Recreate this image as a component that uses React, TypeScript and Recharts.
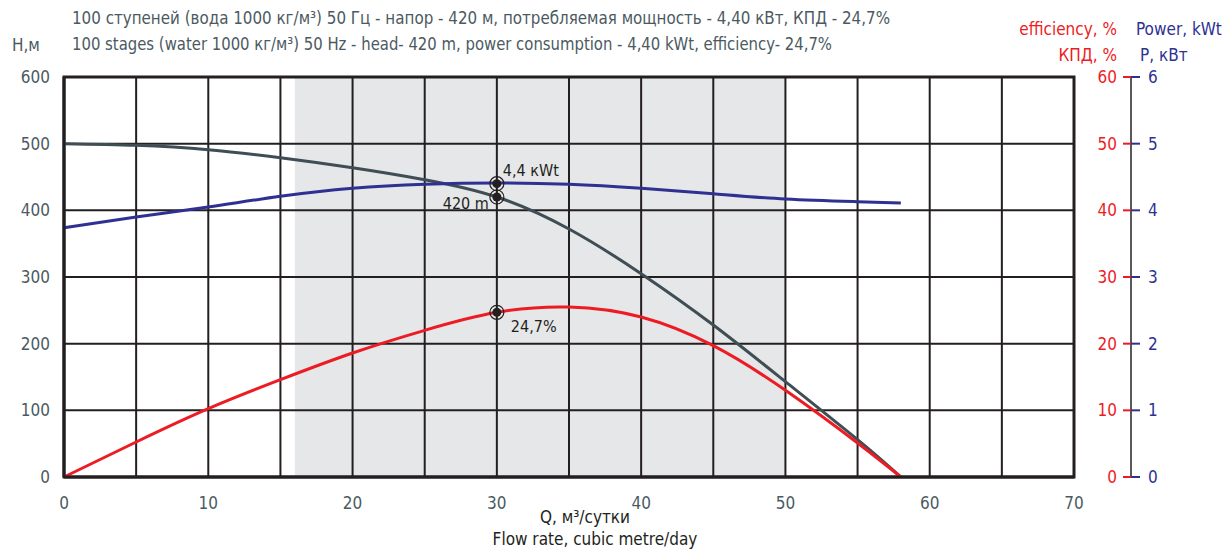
import {
  ComposedChart,
  Line,
  XAxis,
  YAxis,
  ReferenceArea,
  ReferenceDot,
  ReferenceLine,
} from "recharts";

const flow = [0, 5, 10, 15, 20, 25, 30, 35, 40, 45, 50, 55, 58];
const head = [500, 497.5, 491, 479, 464, 446, 420, 372, 305, 228, 143, 56, 0];
const power = [3.74, 3.9, 4.05, 4.21, 4.33, 4.39, 4.41, 4.39, 4.33, 4.25, 4.17, 4.13, 4.11];
const efficiency = [0, 5.25, 10.25, 14.6, 18.6, 22, 24.7, 25.5, 24.0, 19.7, 13.0, 5.1, 0];

const xTicks = [0, 5, 10, 15, 20, 25, 30, 35, 40, 45, 50, 55, 60, 65, 70];
const headTicks = [0, 100, 200, 300, 400, 500, 600];
const effTicks = [0, 10, 20, 30, 40, 50, 60];
const powerTicks = [0, 1, 2, 3, 4, 5, 6];
const workRange = [16, 50];

const titleRu =
  "100 ступеней (вода 1000 кг/м³) 50 Гц - напор - 420 м, потребляемая мощность - 4,40 кВт, КПД - 24,7%";
const titleEn =
  "100 stages (water 1000 кг/м³) 50 Hz - head- 420 m, power consumption - 4,40 kWt, efficiency- 24,7%";

const data = flow.map((q, i) => ({
  q,
  head: head[i],
  power: power[i],
  eff: efficiency[i],
}));

const FONT = "'Liberation Sans Narrow', 'DejaVu Sans Condensed', Roboto, sans-serif";
const GREY = "#4b5a62";
const RED = "#ed1c24";
const BLUE = "#2e3192";
const HEAD = "#3f4d54";
const INK = "#231f20";

const EffTick = (props: any) => {
  const { x, y, payload } = props;
  return (
    <g>
      <text x={x + 43} y={y} dy={6} textAnchor="end" fill={RED} fontSize={17} fontFamily={FONT}>
        {payload.value}
      </text>
      <line x1={x + 49} x2={x + 57} y1={y} y2={y} stroke={RED} strokeWidth={2} />
    </g>
  );
};

const marker = (label: string, dx: number, dy: number, anchor: string) => (props: any) => {
  const { cx, cy } = props;
  return (
    <g>
      <circle cx={cx} cy={cy} r={7} fill="none" stroke={INK} strokeWidth={1.2} />
      <circle cx={cx} cy={cy} r={4.5} fill={INK} />
      <text
        x={cx + dx}
        y={cy + dy}
        textAnchor={anchor}
        fill={INK}
        fontSize={16}
        fontFamily={FONT}
      >
        {label}
      </text>
    </g>
  );
};

export default function App() {
  return (
    <div style={{ position: "absolute", left: 0, top: 0 }}>
      <svg width={1227} height={550} style={{ position: "absolute", left: 0, top: 0 }}>
        <text x={72} y={24} fill={GREY} fontSize={17} fontFamily={FONT} textLength={818} lengthAdjust="spacingAndGlyphs">
          {titleRu}
        </text>
        <text x={72} y={50} fill={GREY} fontSize={17} fontFamily={FONT} textLength={760} lengthAdjust="spacingAndGlyphs">
          {titleEn}
        </text>
        <text x={12} y={51} fill={GREY} fontSize={17} fontFamily={FONT}>
          Н,м
        </text>
        <text x={1117} y={35} textAnchor="end" fill={RED} fontSize={17} fontFamily={FONT}>
          efficiency, %
        </text>
        <text x={1136} y={35} fill={BLUE} fontSize={17} fontFamily={FONT}>
          Power, kWt
        </text>
        <text x={1117} y={61} textAnchor="end" fill={RED} fontSize={17} fontFamily={FONT}>
          КПД, %
        </text>
        <text x={1140} y={61} fill={BLUE} fontSize={17} fontFamily={FONT}>
          P, кВт
        </text>
        <text x={585} y={523} textAnchor="middle" fill={INK} fontSize={17} fontFamily={FONT}>
          Q, м³/сутки
        </text>
        <text x={595} y={545} textAnchor="middle" fill={INK} fontSize={17} fontFamily={FONT}>
          Flow rate, cubic metre/day
        </text>
      </svg>
      <ComposedChart
        width={1227}
        height={550}
        data={data}
        margin={{ top: 77, right: 6, bottom: 43, left: 14 }}
      >
        <XAxis
          dataKey="q"
          type="number"
          domain={[0, 70]}
          ticks={xTicks}
          interval={0}
          tickFormatter={(v: number) => (v % 10 === 0 ? String(v) : "")}
          tickLine={false}
          axisLine={{ stroke: INK, strokeWidth: 3 }}
          tickMargin={14}
          height={30}
          tick={{ fill: GREY, fontSize: 17, fontFamily: FONT }}
        />
        <YAxis
          yAxisId="head"
          domain={[0, 600]}
          ticks={headTicks}
          interval={0}
          width={50}
          tickLine={false}
          axisLine={{ stroke: INK, strokeWidth: 3 }}
          tickMargin={8}
          tick={{ fill: GREY, fontSize: 17, fontFamily: FONT }}
        />
        <YAxis
          yAxisId="eff"
          orientation="right"
          domain={[0, 60]}
          ticks={effTicks}
          interval={0}
          width={57}
          tickSize={0}
          tickMargin={0}
          tickLine={false}
          axisLine={false}
          tick={<EffTick />}
        />
        <YAxis
          yAxisId="pow"
          orientation="right"
          domain={[0, 6]}
          ticks={powerTicks}
          interval={0}
          width={90}
          tickSize={9}
          tickMargin={8}
          tickLine={{ stroke: BLUE, strokeWidth: 2 }}
          axisLine={{ stroke: INK, strokeWidth: 1.5 }}
          tick={{ fill: BLUE, fontSize: 17, fontFamily: FONT, textAnchor: "start" }}
        />
        <ReferenceArea
          yAxisId="head"
          x1={workRange[0]}
          x2={workRange[1]}
          y1={0}
          y2={600}
          fill="#e6e7e8"
          fillOpacity={1}
          stroke="none"
        />
        {xTicks.map((t) => (
          <ReferenceLine key={`vx${t}`} yAxisId="head" x={t} stroke={INK} strokeWidth={2} />
        ))}
        {headTicks.map((t) => (
          <ReferenceLine key={`hy${t}`} yAxisId="head" y={t} stroke={INK} strokeWidth={2} />
        ))}
        <ReferenceArea
          yAxisId="head"
          x1={0}
          x2={70}
          y1={0}
          y2={600}
          fill="none"
          stroke={INK}
          strokeWidth={3}
        />
        <Line yAxisId="head" dataKey="head" type="natural" stroke={HEAD} strokeWidth={3} dot={false} isAnimationActive={false} />
        <Line yAxisId="pow" dataKey="power" type="natural" stroke={BLUE} strokeWidth={3} dot={false} isAnimationActive={false} />
        <Line yAxisId="eff" dataKey="eff" type="natural" stroke={RED} strokeWidth={3} dot={false} isAnimationActive={false} />
        <ReferenceDot yAxisId="pow" x={30} y={4.4} shape={marker("4,4 кWt", 6, -8, "start")} />
        <ReferenceDot yAxisId="head" x={30} y={420} shape={marker("420 m", -8, 12, "end")} />
        <ReferenceDot yAxisId="eff" x={30} y={24.7} shape={marker("24,7%", 14, 20, "start")} />
      </ComposedChart>
    </div>
  );
}
